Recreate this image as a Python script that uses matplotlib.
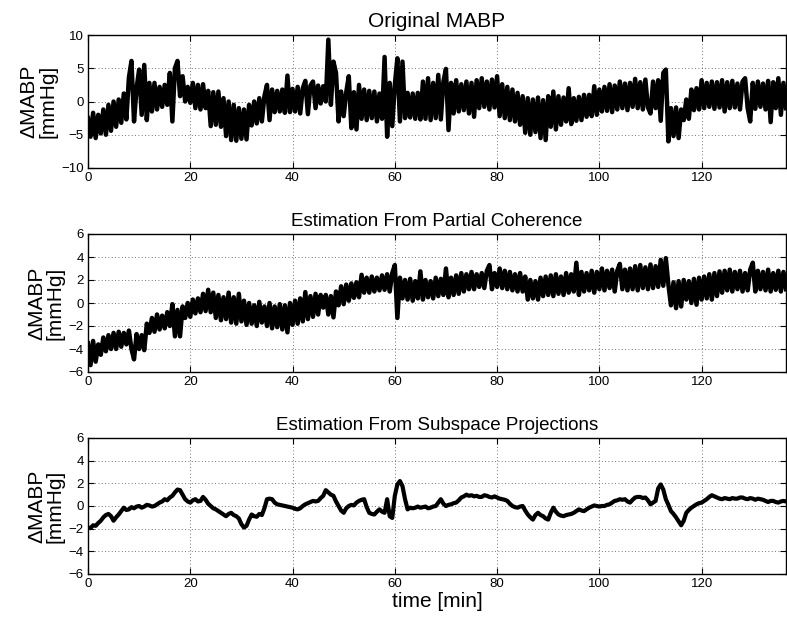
import numpy as np
import matplotlib
matplotlib.use('Agg')
import matplotlib.pyplot as plt

plt.rcParams['font.family'] = ['Liberation Sans', 'DejaVu Sans']

# sample step in minutes (values every 0.5 min)
step = 0.5

# Original MABP (mmHg)
mabp_orig = [
    -2.5, -5.3, -1.7, -5.5, -2.0, -4.8, -1.2, -5.0, -0.5, -4.4,
    0.0, -3.8, 0.3, -3.2, 1.2, -2.7, 3.6, 6.1, -3.0, 2.0,
    4.8, -2.0, 5.5, -2.8, 2.8, -1.5, 2.8, -1.2, 2.2, -0.8,
    2.5, -0.5, 4.3, -3.0, 5.0, 6.1, 0.8, 3.8, 0.0, 2.2,
    -0.2, 2.8, -1.0, 2.5, -1.2, 2.6, -1.0, 1.6, -3.7, 1.4,
    -3.5, 1.5, -3.8, 0.5, -5.2, 0.0, -5.8, -0.5, -5.9, -1.0,
    -5.6, -1.2, -5.7, -0.5, -3.6, 0.0, -3.3, 0.5, -3.0, 0.8,
    2.5, -2.8, 1.8, -1.6, 1.6, -1.5, 1.8, -1.7, 3.9, -1.6,
    1.9, -1.5, 2.2, -1.8, 2.0, 3.1, -1.9, 2.4, 3.0, -1.0,
    2.4, -0.3, 2.3, 0.0, 9.3, -0.5, 6.0, 4.3, -3.0, 1.5,
    -2.2, 1.4, 3.8, -4.0, 1.4, -4.2, 2.5, -2.6, 1.8, -2.8,
    1.6, -2.5, 1.5, -3.0, 1.2, -2.6, 6.7, -5.3, 2.8, -3.7,
    2.5, 6.5, -3.0, 6.0, -2.5, 1.3, -2.4, 1.2, -2.6, 1.3,
    -2.7, 3.0, -2.6, 3.5, -2.8, 2.8, -2.5, 4.0, -2.7, 3.0,
    4.9, -4.3, 2.8, -1.8, 3.2, -1.5, 2.6, -1.3, 3.0, -1.8,
    2.8, -2.3, 3.2, -1.0, 3.5, -0.8, 3.0, -1.2, 3.3, -0.9,
    3.8, -2.2, 2.6, -2.5, 2.2, -2.8, 1.8, -3.0, 1.3, -3.5,
    0.8, -4.7, 0.5, -5.0, 0.3, -4.6, 0.6, -5.5, 0.2, -5.8,
    0.8, -3.8, 1.5, -4.2, 0.8, -3.5, 0.6, -3.0, 2.0, -3.4,
    0.5, -2.9, 0.7, -2.8, 1.0, -2.3, 1.0, -2.2, 2.3, -2.0,
    1.8, -1.5, 2.2, -1.4, 2.6, -1.6, 2.4, -1.2, 3.0, -1.0,
    2.7, -1.3, 2.8, -0.8, 3.4, -1.0, 2.9, -1.2, 3.3, -0.9,
    -1.8, 3.0, -1.0, 3.2, -2.9, 4.3, 4.8, -6.0, -1.0, -5.2,
    -0.9, -5.5, -1.2, -2.8, 0.3, -2.6, 1.8, -1.3, 2.0, -1.2,
    3.2, -1.0, 2.8, -0.8, 3.0, -1.1, 2.9, -0.9, 3.2, -1.5,
    2.9, -1.0, 3.1, -0.9, 2.7, -1.2, 3.0, 3.5, -1.0, -3.0,
    2.8, -1.1, 3.0, -0.8, 2.7, -1.2, 3.1, -3.1, 2.9, -1.0,
    3.5, -2.0, 2.8, -1.0,
]

# Estimation from partial coherence (mmHg)
mabp_pc = [
    -3.5, -5.4, -3.3, -5.1, -3.6, -4.5, -3.0, -4.2, -2.8, -4.0,
    -2.6, -4.0, -2.5, -3.8, -2.6, -3.6, -2.4, -4.0, -4.9, -2.7,
    -4.0, -2.8, -4.1, -1.8, -2.6, -1.3, -2.5, -1.0, -2.3, -1.1,
    -2.2, -0.8, -2.0, -0.1, -2.9, -0.6, -2.9, -0.3, -1.3, 0.0,
    -1.2, 0.3, -0.9, 0.4, -0.8, 0.8, -0.7, 1.15, -0.8, 0.9,
    -1.3, 0.7, -1.5, 0.5, -1.4, 0.9, -1.7, 0.5, -1.8, 0.8,
    -1.6, 0.2, -1.9, 0.0, -1.8, -0.2, -2.0, 0.1, -1.7, -0.3,
    -2.0, 0.0, -2.2, -0.3, -2.1, -0.1, -2.3, -0.2, -2.55, 0.0,
    -1.9, 0.2, -1.8, 0.4, -1.6, 0.95, -1.4, 0.6, -1.2, 0.8,
    -1.0, 0.7, -0.4, 0.7, -1.0, 0.6, -1.25, 1.0, -0.2, 1.45,
    -0.1, 1.6, 0.2, 1.7, 0.45, 1.8, 0.5, 2.45, 0.9, 2.2,
    0.9, 2.3, 1.0, 2.2, 1.1, 2.4, 1.15, 2.5, 1.0, 2.6,
    3.3, -1.3, 2.2, 0.4, 2.0, 0.3, 2.1, 0.2, 1.9, 0.4,
    2.75, 0.3, 2.0, 0.5, 1.9, 0.4, 2.2, 0.6, 2.1, 0.7,
    3.0, 0.5, 2.2, 0.7, 2.4, 0.8, 2.6, 1.0, 2.5, 1.2,
    2.7, 1.2, 2.5, 1.4, 2.6, 1.3, 2.8, 3.3, 1.2, 2.6,
    1.4, 3.0, 1.3, 2.8, 1.2, 2.7, 1.1, 2.5, 1.0, 2.6,
    1.0, 2.3, 0.3, 2.0, 0.4, 1.9, 0.3, 2.2, 0.6, 2.3,
    0.7, 2.4, 0.6, 2.5, 0.8, 2.3, 0.7, 2.6, 0.9, 2.5,
    1.0, 3.5, 0.7, 2.7, 1.0, 2.6, 1.1, 2.8, 0.9, 2.7,
    1.2, 3.0, 1.1, 2.8, 1.3, 2.9, 1.0, 2.8, 3.4, 1.2,
    2.9, 1.1, 3.0, 1.2, 3.2, 1.1, 3.3, 1.3, 3.1, 1.2,
    3.35, 1.3, 3.2, 1.4, 3.75, 1.5, 3.9, 1.6, -0.2, 1.8,
    -0.45, 1.9, -0.3, 2.0, 0.3, 1.9, 0.0, 2.1, -0.15, 2.2,
    0.3, 2.3, 0.4, 2.5, 0.3, 2.6, 0.6, 2.75, 0.9, 2.8,
    1.1, 2.9, 1.0, 2.7, 1.2, 2.8, 1.0, 2.6, 1.1, 2.9,
    3.5, 1.0, 2.8, 1.2, 2.7, 1.1, 2.9, 1.0, 2.6, 1.15,
    2.8, 1.0, 2.7, 1.2,
]

# Estimation from subspace projections (mmHg)
mabp_sp = [
    -1.9, -1.95, -1.7, -1.75, -1.5, -1.3, -1.0, -0.8, -0.7, -0.9,
    -1.3, -1.0, -0.75, -0.45, -0.15, -0.35, -0.3, -0.1, -0.2, -0.05,
    0.0, -0.15, -0.05, 0.1, 0.05, -0.05, 0.0, 0.15, 0.3, 0.4,
    0.6, 0.5, 0.75, 0.9, 1.2, 1.45, 1.4, 1.0, 0.6, 0.4,
    0.3, 0.5, 0.6, 0.4, 0.45, 0.8, 0.55, 0.2, 0.0, -0.2,
    -0.3, -0.45, -0.6, -0.75, -0.9, -0.7, -0.6, -0.8, -0.9, -1.1,
    -1.6, -1.9, -1.75, -1.2, -0.75, -0.9, -0.95, -0.7, -0.8, -0.2,
    0.6, 0.65, 0.6, 0.3, 0.15, 0.1, 0.05, 0.0, -0.05, -0.1,
    -0.15, -0.25, -0.3, -0.2, 0.0, 0.15, 0.25, 0.35, 0.45, 0.4,
    0.45, 0.7, 0.9, 1.4, 1.2, 1.0, 0.9, 0.4, 0.0, -0.4,
    -0.6, -0.2, 0.0, 0.1, 0.05, 0.3, 0.45, 0.55, 0.6, -0.1,
    -0.6, -0.7, -0.75, -0.5, -0.3, -0.5, -0.6, 0.6, -0.9, -1.05,
    0.9, 1.9, 2.2, 1.75, 0.6, -0.3, -0.15, -0.2, -0.15, -0.05,
    -0.15, -0.1, -0.05, -0.2, -0.15, -0.05, 0.0, 0.3, 0.6, 0.2,
    0.0, 0.1, 0.15, 0.25, 0.3, 0.5, 0.75, 0.85, 1.0, 0.9,
    0.95, 0.85, 0.9, 0.8, 0.8, 0.95, 0.9, 0.8, 0.75, 0.85,
    0.75, 0.65, 0.6, 0.55, 0.45, 0.2, 0.0, -0.1, -0.15, -0.05,
    0.0, -0.4, -0.75, -1.0, -1.2, -0.8, -0.6, -0.8, -0.9, -1.1,
    -1.2, -0.6, -0.15, -0.5, -0.75, -0.85, -0.9, -0.8, -0.75, -0.7,
    -0.6, -0.45, -0.3, -0.4, -0.45, -0.3, -0.15, -0.05, 0.05, 0.0,
    -0.05, 0.0, 0.0, 0.1, 0.15, 0.3, 0.45, 0.5, 0.6, 0.55,
    0.6, 0.4, 0.3, 0.55, 0.75, 0.8, 0.8, 0.7, 0.75, 0.5,
    0.15, 0.3, 0.45, 1.55, 1.9, 1.45, 0.6, 0.1, -0.45, -0.7,
    -1.0, -1.35, -1.7, -1.3, -0.6, -0.35, -0.15, 0.0, 0.15, 0.25,
    0.3, 0.45, 0.6, 0.8, 0.95, 0.85, 0.75, 0.65, 0.6, 0.7,
    0.65, 0.6, 0.7, 0.65, 0.65, 0.75, 0.75, 0.65, 0.6, 0.7,
    0.65, 0.55, 0.65, 0.6, 0.55, 0.45, 0.35, 0.45, 0.45, 0.35,
    0.3, 0.4, 0.45, 0.4,
]

titles = ['Original MABP',
          'Estimation From Partial Coherence',
          'Estimation From Subspace Projections']
title_sizes = [15, 13.5, 13.5]
line_widths = [3.2, 3.2, 3.0]
ylims = [(-10, 10), (-6, 6), (-6, 6)]
yticks = [[-10, -5, 0, 5, 10], [-6, -4, -2, 0, 2, 4, 6], [-6, -4, -2, 0, 2, 4, 6]]
xticks = [0, 20, 40, 60, 80, 100, 120]
xmax = 136.5

fig = plt.figure(figsize=(7.87, 6.2), dpi=100)
W, H = 787.0, 620.0
left, right = 88, 786
boxes = [(35, 168), (234, 372), (438, 574)]  # top/bottom pixel rows of each axes

for i, series in enumerate([mabp_orig, mabp_pc, mabp_sp]):
    top, bot = boxes[i]
    ax = fig.add_axes([left / W, 1 - bot / H, (right - left) / W, (bot - top) / H])
    t = np.arange(len(series)) * step
    ax.plot(t, series, color='black', lw=line_widths[i], solid_joinstyle='round')
    ax.set_xlim(0, xmax)
    ax.set_ylim(*ylims[i])
    ax.set_xticks(xticks)
    ax.set_yticks(yticks[i])
    ax.set_yticklabels(['\u2212%d' % -v if v < 0 else '%d' % v for v in yticks[i]])
    ax.grid(True, color='#444444', linestyle=(0, (1, 3)), linewidth=0.6)
    ax.tick_params(direction='in', length=4, width=0.8, labelsize=9.5, pad=3,
                   top=True, right=True)
    for s in ax.spines.values():
        s.set_linewidth(1.0)
    ax.set_title(titles[i], fontsize=title_sizes[i], pad=6)
    ax.set_ylabel('\u0394MABP\n[mmHg]', fontsize=15, linespacing=0.95, labelpad=3)
    if i == 2:
        ax.set_xlabel('time [min]', fontsize=15, labelpad=1)

fig.savefig('out.png', dpi=100)
